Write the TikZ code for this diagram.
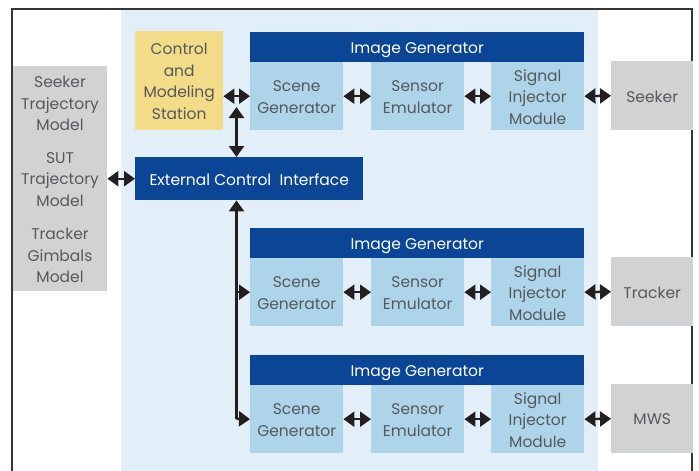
\documentclass[tikz,border=0pt]{standalone}
\usepackage{fontspec}
\setmainfont{Poppins}
\usetikzlibrary{arrows.meta}
\definecolor{dblue}{HTML}{0B4595}
\definecolor{lblue}{HTML}{AED4EA}
\definecolor{bgblue}{HTML}{E2EFF8}
\definecolor{yel}{HTML}{F2DC88}
\definecolor{gry}{HTML}{D1D2D4}
\definecolor{txt}{HTML}{55595E}
\definecolor{arr}{HTML}{231F20}
\begin{document}
\begin{tikzpicture}[x=1pt,y=-1pt,
  box/.style={inner sep=0pt, text=txt, align=center, font=\fontsize{15.5}{21.5}\selectfont, text depth=0pt},
  lbox/.style={box, fill=lblue},
  hdr/.style={box, fill=dblue, text=white},
  gbox/.style={box, fill=gry},
  ybox/.style={box, fill=yel},
  tip/.tip={Triangle[length=11pt,width=15pt]},
  biarrow/.style={draw=arr, line width=2.4pt, tip-tip},
  onearrow/.style={draw=arr, line width=2.4pt, -tip}
]
\useasboundingbox (0,0) rectangle (699,471);
\fill[white] (0,0) rectangle (699,471);
\fill[bgblue] (121,10) rectangle (598,471);
\draw[line width=2pt, draw=arr!90] (12,480) -- (12,9) -- (692,9) -- (692,480);

% left gray box
\node[gbox, minimum width=94pt, minimum height=225pt, anchor=north west] (left) at (13,66) {};
\node[box] at (60,103.5) {Seeker\\Trajectory\\Model};
\node[box] at (60,179.5) {SUT\\Trajectory\\Model};
\node[box] at (60,255.5) {Tracker\\Gimbals\\Model};

% control station
\node[ybox, minimum width=88pt, minimum height=99pt, anchor=north west] (cms) at (135,31) {};
\node[box] at (cms.center) [yshift=-0.7pt] {Control\\and\\Modeling\\Station};

% ECI
\node[hdr, minimum width=228pt, minimum height=43pt, anchor=north west] (eci) at (135,157) {};
\node[box, text=white] at (eci.center) [yshift=-0.7pt] {External Control~ Interface};

% image generator rows
\foreach \r/\y/\tgt in {1/32/Seeker, 2/228/Tracker, 3/355/MWS}{
  \node[hdr, minimum width=334pt, minimum height=30pt, anchor=north west] (ig\r) at (250,\y) {};
  \node[box, text=white] at (ig\r.center) [yshift=-0.7pt] {Image Generator};
  \node[lbox, minimum width=93pt, minimum height=68pt, anchor=north west] (sg\r) at (250,\y+30) {};
  \node[box] at (sg\r.center) [yshift=-0.7pt] {Scene\\Generator};
  \node[lbox, minimum width=93pt, minimum height=68pt, anchor=north west] (se\r) at (371,\y+30) {};
  \node[box] at (se\r.center) [yshift=-0.7pt] {Sensor\\Emulator};
  \node[lbox, minimum width=93pt, minimum height=68pt, anchor=north west] (si\r) at (491,\y+30) {};
  \node[box] at (si\r.center) [yshift=-0.7pt] {Signal\\Injector\\Module};
  \node[gbox, minimum width=82pt, minimum height=69pt, anchor=north west] (ext\r) at (611,\y+29) {};
  \node[box] at (ext\r.center) [yshift=-0.7pt] {\tgt};
  \draw[biarrow] (sg\r.east) -- (se\r.west);
  \draw[biarrow] (se\r.east) -- (si\r.west);
  \draw[biarrow] (si\r.east) -- (ext\r.west);
}

% connectors
\draw[biarrow] (cms.east |- sg1.west) -- (sg1.west);
\coordinate (vtop) at (236.5,107);
\draw[biarrow] (vtop) -- (vtop |- eci.north);
\draw[biarrow] (left.east |- eci.west) -- (eci.west);
\coordinate (vbot) at (236.5,420);
\draw[onearrow] (vbot |- sg3.west) -- (vtop |- eci.south);
\draw[onearrow] (vbot |- sg2.west) -- (sg2.west);
\draw[onearrow] ([yshift=1.2pt]vbot) -- (sg3.west);
\end{tikzpicture}
\end{document}
